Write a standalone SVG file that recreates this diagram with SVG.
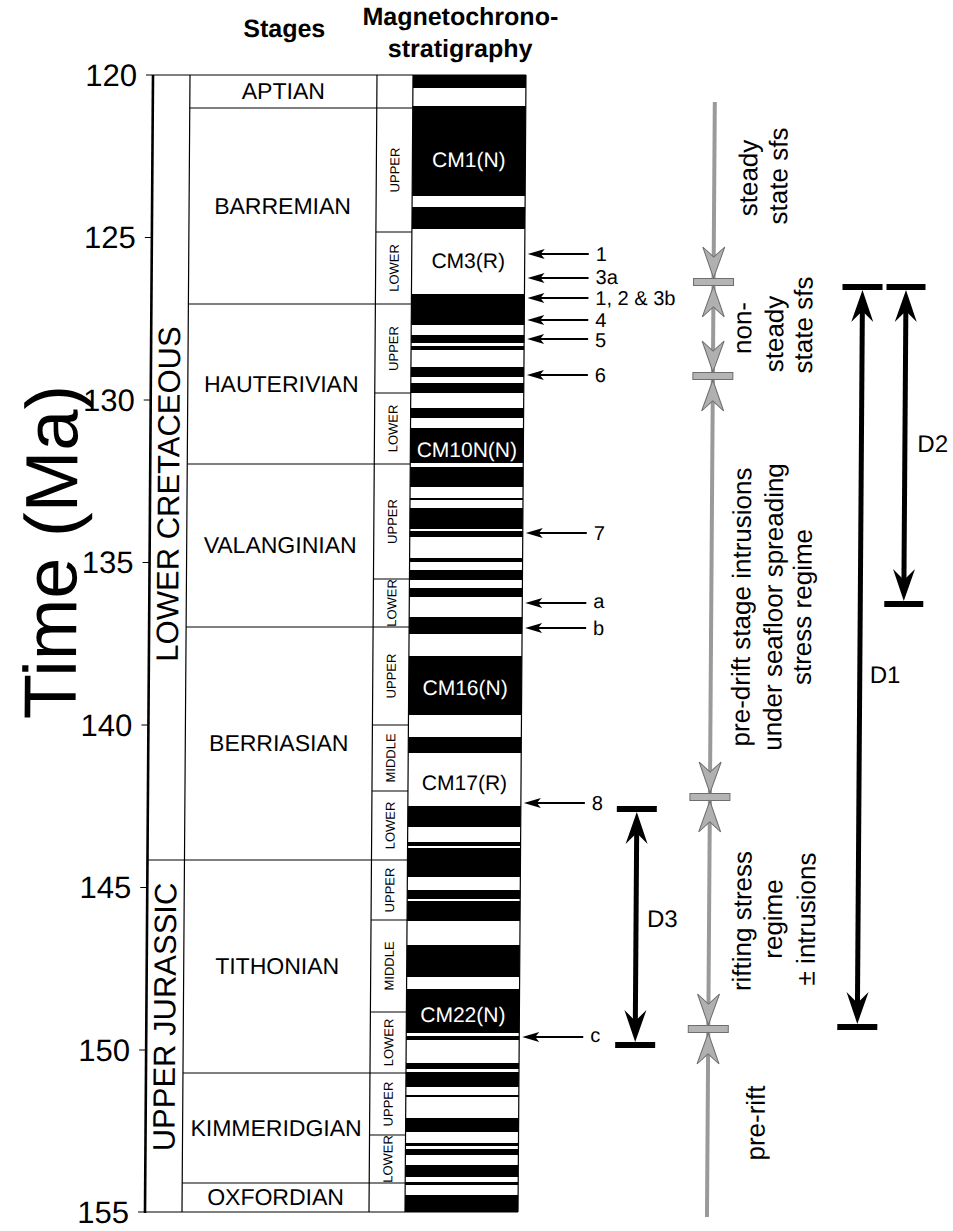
<svg xmlns="http://www.w3.org/2000/svg" width="953" height="1231" viewBox="0 0 953 1231">
<style>
text{font-family:"Liberation Sans",Arial,Helvetica,sans-serif;fill:#000}
.hd{font-size:25px;font-weight:bold}
.tk{font-size:31px;text-anchor:end}
.st{font-size:23px;text-anchor:middle}
.era{font-size:31px;text-anchor:middle}
.sub{font-size:13px;text-anchor:middle}
.cm{font-size:21px;text-anchor:middle}
.wt{fill:#fff}
.lb{font-size:20px}
.rt{font-size:26px;text-anchor:middle}
.dl{font-size:24px}
.ln{stroke:#000;stroke-width:1.2;fill:none}
.band{fill:#000}
.arr{stroke:#000;stroke-width:2;marker-end:url(#ah)}
.darr{stroke:#000;stroke-width:5;marker-start:url(#dh);marker-end:url(#dh)}
.dbar{fill:#000}
.gbar{fill:#b4b4b4;stroke:#6e6e6e;stroke-width:1}
.gh{fill:#b0b0b0;stroke:#6e6e6e;stroke-width:1}
</style>
<defs>
<marker id="ah" viewBox="-18 -6 19 12" refX="-12" refY="0" markerWidth="19" markerHeight="12" markerUnits="userSpaceOnUse" orient="auto"><path d="M0,0 L-17,-5 L-13,0 L-17,5 Z" fill="#000"/></marker>
<marker id="dh" viewBox="-34 -13 35 26" refX="-20" refY="0" markerWidth="35" markerHeight="26" markerUnits="userSpaceOnUse" orient="auto-start-reverse"><path d="M0,0 L-32,-11 L-21,0 L-32,11 Z" fill="#000"/></marker>
<path id="gdown" d="M0,0 L-11,-31 L0,-21 L11,-31 Z"/>
</defs>
<g transform="matrix(1,0,-0.00704,1,0.528,0)">
<g id="headers">
<text class="hd" x="284" y="37" text-anchor="middle">Stages</text>
<text class="hd" x="460" y="25" text-anchor="middle">Magnetochrono-</text>
<text class="hd" x="460" y="57" text-anchor="middle">stratigraphy</text>
</g>
<g id="time-axis">
<line x1="153" y1="75" x2="153" y2="1213" stroke="#000" stroke-width="2.6"/>
<path class="ln" d="M146,75H526M146,237.5H153M146,400H153M146,562.5H153M146,725H153M146,887.5H153M146,1050H153M146,1212H526"/>
<text class="tk" x="137" y="86">120</text>
<text class="tk" x="137" y="248.5">125</text>
<text class="tk" x="137" y="411">130</text>
<text class="tk" x="137" y="573.5">135</text>
<text class="tk" x="137" y="736">140</text>
<text class="tk" x="137" y="898.5">145</text>
<text class="tk" x="137" y="1061">150</text>
<text class="tk" x="137" y="1223">155</text>
<text transform="translate(80,552) rotate(-90)" style="font-size:74px" text-anchor="middle">Time (Ma)</text>
</g>
<g id="eras">
<path class="ln" d="M190,75V1212M153,860H190"/>
<text class="era" transform="translate(182,494) rotate(-90)">LOWER CRETACEOUS</text>
<text class="era" transform="translate(182,1017) rotate(-90)">UPPER JURASSIC</text>
</g>
<g id="stages">
<path class="ln" d="M377,75V1212M413,75V1212M526,75V1212M190,108H413M190,304H413M190,464H413M190,627H413M190,860H413M190,1073H413M190,1183H413"/>
<g id="stage-aptian"><text class="st" x="283.5" y="99.5">APTIAN</text></g>
<g id="stage-barremian"><text class="st" x="283.5" y="214">BARREMIAN</text></g>
<g id="stage-hauterivian"><text class="st" x="283.5" y="392">HAUTERIVIAN</text></g>
<g id="stage-valanginian"><text class="st" x="283.5" y="553.5">VALANGINIAN</text></g>
<g id="stage-berriasian"><text class="st" x="283.5" y="751.5">BERRIASIAN</text></g>
<g id="stage-tithonian"><text class="st" x="283.5" y="974.5">TITHONIAN</text></g>
<g id="stage-kimmeridgian"><text class="st" x="283.5" y="1136">KIMMERIDGIAN</text></g>
<g id="stage-oxfordian"><text class="st" x="283.5" y="1205.5">OXFORDIAN</text></g>
</g>
<g id="substages">
<path class="ln" d="M377,232H413M377,393H413M377,579H413M377,725H413M377,791H413M377,920H413M377,1012H413M377,1135H413"/>
<text class="sub" transform="translate(400,170) rotate(-90)">UPPER</text>
<text class="sub" transform="translate(400,268) rotate(-90)">LOWER</text>
<text class="sub" transform="translate(400,348.5) rotate(-90)">UPPER</text>
<text class="sub" transform="translate(400,428.5) rotate(-90)">LOWER</text>
<text class="sub" transform="translate(400,521.5) rotate(-90)">UPPER</text>
<text class="sub" transform="translate(400,603) rotate(-90)">LOWER</text>
<text class="sub" transform="translate(400,676) rotate(-90)">UPPER</text>
<text class="sub" transform="translate(400,758) rotate(-90)">MIDDLE</text>
<text class="sub" transform="translate(400,825.5) rotate(-90)">LOWER</text>
<text class="sub" transform="translate(400,890) rotate(-90)">UPPER</text>
<text class="sub" transform="translate(400,966) rotate(-90)">MIDDLE</text>
<text class="sub" transform="translate(400,1042.5) rotate(-90)">LOWER</text>
<text class="sub" transform="translate(400,1104) rotate(-90)">UPPER</text>
<text class="sub" transform="translate(400,1159) rotate(-90)">LOWER</text>
</g>
<g id="magnetochrons">
<rect class="band" x="413" y="75" width="113" height="13"/>
<rect class="band" x="413" y="106" width="113" height="90"/>
<rect class="band" x="413" y="207" width="113" height="22"/>
<rect class="band" x="413" y="294" width="113" height="31"/>
<rect class="band" x="413" y="335" width="113" height="8"/>
<rect class="band" x="413" y="346" width="113" height="4"/>
<rect class="band" x="413" y="367" width="113" height="10"/>
<rect class="band" x="413" y="383" width="113" height="10"/>
<rect class="band" x="413" y="408" width="113" height="10"/>
<rect class="band" x="413" y="428" width="113" height="35"/>
<rect class="band" x="413" y="467" width="113" height="20"/>
<rect class="band" x="413" y="498" width="113" height="2"/>
<rect class="band" x="413" y="508" width="113" height="21"/>
<rect class="band" x="413" y="531" width="113" height="6"/>
<rect class="band" x="413" y="558" width="113" height="4"/>
<rect class="band" x="413" y="570" width="113" height="10"/>
<rect class="band" x="413" y="588" width="113" height="9"/>
<rect class="band" x="413" y="617" width="113" height="17"/>
<rect class="band" x="413" y="656" width="113" height="59"/>
<rect class="band" x="413" y="737" width="113" height="16"/>
<rect class="band" x="413" y="806" width="113" height="21"/>
<rect class="band" x="413" y="842" width="113" height="4"/>
<rect class="band" x="413" y="848" width="113" height="29"/>
<rect class="band" x="413" y="890" width="113" height="9"/>
<rect class="band" x="413" y="901" width="113" height="20"/>
<rect class="band" x="413" y="945" width="113" height="32"/>
<rect class="band" x="413" y="989" width="113" height="44"/>
<rect class="band" x="413" y="1036" width="113" height="4"/>
<rect class="band" x="413" y="1063" width="113" height="6"/>
<rect class="band" x="413" y="1072" width="113" height="15"/>
<rect class="band" x="413" y="1095" width="113" height="2"/>
<rect class="band" x="413" y="1118" width="113" height="14"/>
<rect class="band" x="413" y="1143" width="113" height="3"/>
<rect class="band" x="413" y="1149" width="113" height="6"/>
<rect class="band" x="413" y="1165" width="113" height="12"/>
<rect class="band" x="413" y="1182" width="113" height="3"/>
<rect class="band" x="413" y="1195" width="113" height="17"/>
<text class="cm wt" x="469.5" y="167">CM1(N)</text>
<text class="cm" x="469.5" y="268">CM3(R)</text>
<text class="cm wt" x="469.5" y="457">CM10N(N)</text>
<text class="cm wt" x="469.5" y="695">CM16(N)</text>
<text class="cm" x="469.5" y="790">CM17(R)</text>
<text class="cm wt" x="469.5" y="1022">CM22(N)</text>
</g>
<g id="connectors">
<line class="arr" x1="590" y1="254" x2="541" y2="254"/>
<line class="arr" x1="590" y1="278" x2="541" y2="278"/>
<line class="arr" x1="590" y1="298" x2="541" y2="298"/>
<line class="arr" x1="590" y1="320" x2="541" y2="320"/>
<line class="arr" x1="590" y1="339" x2="541" y2="339"/>
<line class="arr" x1="590" y1="375" x2="541" y2="375"/>
<line class="arr" x1="590" y1="533" x2="541" y2="533"/>
<line class="arr" x1="590" y1="603" x2="541" y2="603"/>
<line class="arr" x1="590" y1="628" x2="541" y2="628"/>
<line class="arr" x1="590" y1="803" x2="541" y2="803"/>
<line class="arr" x1="590" y1="1037" x2="541" y2="1037"/>
</g>
<g id="sample-labels">
<text class="lb" x="597" y="261">1</text>
<text class="lb" x="597" y="284">3a</text>
<text class="lb" x="597" y="305">1, 2 &amp; 3b</text>
<text class="lb" x="597" y="327">4</text>
<text class="lb" x="597" y="347">5</text>
<text class="lb" x="597" y="382">6</text>
<text class="lb" x="597" y="540">7</text>
<text class="lb" x="597" y="608">a</text>
<text class="lb" x="597" y="635">b</text>
<text class="lb" x="597" y="810">8</text>
<text class="lb" x="597" y="1042">c</text>
</g>
<g id="regime-line">
<line x1="715" y1="102" x2="715" y2="1217" stroke="#9a9a9a" stroke-width="4"/>
<rect class="gbar" x="695" y="278.5" width="40" height="7"/>
<rect class="gbar" x="695" y="372.5" width="40" height="7"/>
<rect class="gbar" x="695" y="793.5" width="40" height="7"/>
<rect class="gbar" x="695" y="1025.5" width="40" height="7"/>
<use href="#gdown" class="gh" transform="translate(715,278)"/>
<use href="#gdown" class="gh" transform="translate(715,286) scale(1,-1)"/>
<use href="#gdown" class="gh" transform="translate(715,372)"/>
<use href="#gdown" class="gh" transform="translate(715,380) scale(1,-1)"/>
<use href="#gdown" class="gh" transform="translate(715,793)"/>
<use href="#gdown" class="gh" transform="translate(715,801) scale(1,-1)"/>
<use href="#gdown" class="gh" transform="translate(715,1025)"/>
<use href="#gdown" class="gh" transform="translate(715,1033) scale(1,-1)"/>
</g>
<g id="regime-labels">
<text class="rt" transform="translate(758,178) rotate(-90)">steady</text>
<text class="rt" transform="translate(788,176) rotate(-90)">state sfs</text>
<text class="rt" transform="translate(753,328) rotate(-90)">non-</text>
<text class="rt" transform="translate(785,334) rotate(-90)">steady</text>
<text class="rt" transform="translate(814,325) rotate(-90)">state sfs</text>
<text class="rt" transform="translate(754,607) rotate(-90)">pre-drift stage intrusions</text>
<text class="rt" transform="translate(786,607) rotate(-90)">under seafloor spreading</text>
<text class="rt" transform="translate(815,607) rotate(-90)">stress regime</text>
<text class="rt" transform="translate(757,921) rotate(-90)">rifting stress</text>
<text class="rt" transform="translate(788,919) rotate(-90)">regime</text>
<text class="rt" transform="translate(821,919) rotate(-90)">± intrusions</text>
<text class="rt" transform="translate(772,1123) rotate(-90)">pre-rift</text>
</g>
<g id="D1">
<rect class="dbar" x="844" y="284" width="40" height="6"/>
<rect class="dbar" x="844" y="1024" width="40" height="6"/>
<line class="darr" x1="864" y1="310" x2="864" y2="1004"/>
<text class="dl" x="874" y="683">D1</text>
</g>
<g id="D2">
<rect class="dbar" x="888" y="284" width="39" height="6"/>
<rect class="dbar" x="888" y="601" width="39" height="6"/>
<line class="darr" x1="907.5" y1="310" x2="907.5" y2="581"/>
<text class="dl" x="920" y="452">D2</text>
</g>
<g id="D3">
<rect class="dbar" x="622" y="806" width="40" height="6"/>
<rect class="dbar" x="622" y="1042" width="40" height="6"/>
<line class="darr" x1="642" y1="832" x2="642" y2="1022"/>
<text class="dl" x="653" y="927">D3</text>
</g>
</g>
</svg>
